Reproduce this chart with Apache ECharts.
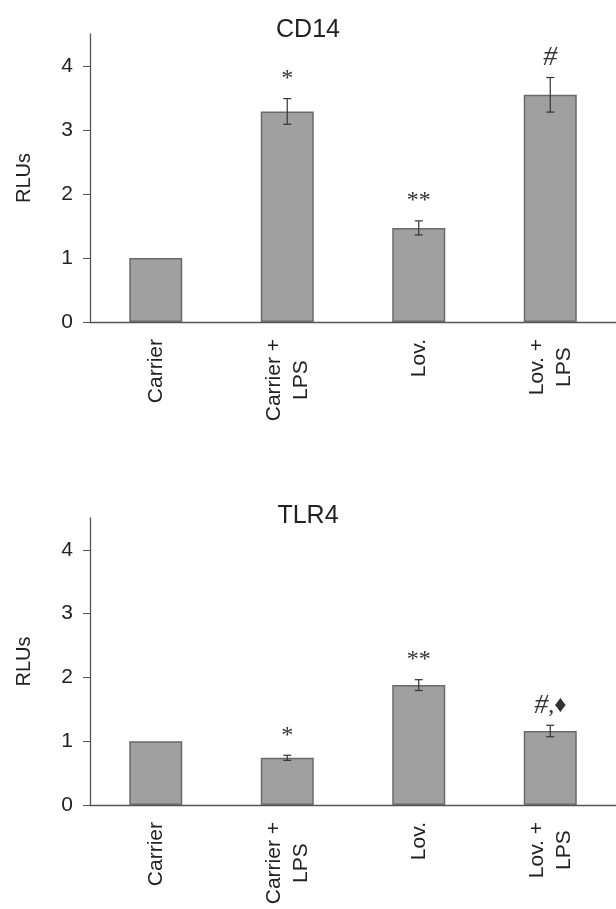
<!DOCTYPE html>
<html>
<head>
<meta charset="utf-8">
<script src="https://cdn.jsdelivr.net/npm/echarts@6/dist/echarts.min.js"></script>
<style>
html,body{margin:0;padding:0;background:#fff;}
#chart{width:616px;height:909px;}
</style>
</head>
<body>
<div id="chart"></div>
<script>
// ---- data ----
const categories = ['Carrier', 'Carrier +\nLPS', 'Lov.', 'Lov. +\nLPS'];
const cd14Mean = [1.0, 3.29, 1.47, 3.55];
const cd14Err = [0, 0.20, 0.11, 0.27];
const cd14Marks = ['', '*', '**', '#'];
const tlr4Mean = [1.0, 0.74, 1.88, 1.16];
const tlr4Err = [0, 0.04, 0.085, 0.09];
const tlr4Marks = ['', '*', '**', '#,\u2666'];
const yTicks = [0, 1, 2, 3, 4];
const panelTitles = ['CD14', 'TLR4'];
const yName = 'RLUs';

// ---- style ----
const FONT = '"Liberation Sans", Arial, Helvetica, sans-serif';
const SERIF = '"Liberation Serif", "DejaVu Serif", serif';
const TXT = '#222';
const AX = '#555';
const grids = [
  { left: 90, top: 34, width: 532, height: 288 },
  { left: 90, top: 518, width: 532, height: 287 }
];

const xAxes = grids.map((g, i) => ({
  type: 'category', gridIndex: i, data: categories,
  axisLine: { lineStyle: { color: AX, width: 1.3 } },
  axisTick: { length: 6, lineStyle: { color: AX, width: 1 } },
  axisLabel: {
    rotate: 90, margin: 17, color: TXT, fontFamily: FONT, fontSize: 21,
    formatter: v => v.split('\n').map(s => '{c|' + s + '}').join('\n'),
    rich: { c: { align: 'center', fontSize: 21, lineHeight: 27, fontFamily: FONT, color: TXT } }
  }
}));

const yAxes = grids.map((g, i) => ({
  type: 'value', gridIndex: i, min: 0, max: 4.5, interval: 1,
  splitLine: { show: false },
  axisLine: { show: true, lineStyle: { color: AX, width: 1.3 } },
  axisTick: { show: true, length: 7, customValues: yTicks, lineStyle: { color: AX } },
  axisLabel: { customValues: yTicks, margin: 17, color: TXT, fontFamily: FONT, fontSize: 21 },
  name: yName, nameLocation: 'middle', nameGap: 56, nameRotate: 90,
  nameTextStyle: { color: TXT, fontFamily: FONT, fontSize: 20 }
}));

function errSeries(idx, means, errs, marks) {
  return {
    type: 'custom', xAxisIndex: idx, yAxisIndex: idx, silent: true, z: 5,
    data: means.map((m, i) => [i, m, errs[i]]),
    renderItem: function (params, api) {
      const x = api.value(0), m = api.value(1), e = api.value(2);
      const top = api.coord([x, m + e]);
      const bot = api.coord([x, m - e]);
      const children = [];
      const ls = { stroke: '#333', lineWidth: 1.2 };
      if (e > 0) {
        children.push({ type: 'line', shape: { x1: top[0], y1: top[1], x2: bot[0], y2: bot[1] }, style: ls });
        children.push({ type: 'line', shape: { x1: top[0] - 4, y1: top[1], x2: top[0] + 4, y2: top[1] }, style: ls });
        children.push({ type: 'line', shape: { x1: bot[0] - 4, y1: bot[1], x2: bot[0] + 4, y2: bot[1] }, style: ls });
      }
      const mk = marks[params.dataIndex];
      if (mk) {
        const rt = mk.split('').map(ch => ch === '#' ? '{h|#}' : '{n|' + ch + '}').join('');
        children.push({
          type: 'text', x: top[0], y: top[1] - 20,
          style: {
            text: rt, align: 'center', verticalAlign: 'middle',
            fontSize: 24, fontFamily: SERIF, fill: '#333',
            rich: {
              h: { fontSize: 28, fontStyle: 'italic', fontFamily: SERIF, fill: '#333', color: '#333' },
              n: { fontSize: 24, fontFamily: SERIF, fill: '#333', color: '#333' }
            }
          }
        });
      }
      return { type: 'group', children: children };
    }
  };
}

function barSeries(idx, means) {
  return {
    type: 'bar', xAxisIndex: idx, yAxisIndex: idx, data: means, barWidth: 53, silent: true,
    itemStyle: { color: '#a0a0a0', borderColor: '#6a6a6a', borderWidth: 1.5 }
  };
}

const chart = echarts.init(document.getElementById('chart'), null, { renderer: 'canvas' });
chart.setOption({
  backgroundColor: '#fff',
  animation: false,
  title: [
    { text: panelTitles[0], left: 'center', top: 13, textStyle: { fontSize: 25, fontWeight: 'normal', color: TXT, fontFamily: FONT } },
    { text: panelTitles[1], left: 'center', top: 499, textStyle: { fontSize: 25, fontWeight: 'normal', color: TXT, fontFamily: FONT } }
  ],
  grid: grids,
  xAxis: xAxes,
  yAxis: yAxes,
  series: [
    barSeries(0, cd14Mean), errSeries(0, cd14Mean, cd14Err, cd14Marks),
    barSeries(1, tlr4Mean), errSeries(1, tlr4Mean, tlr4Err, tlr4Marks)
  ]
});
</script>
</body>
</html>
